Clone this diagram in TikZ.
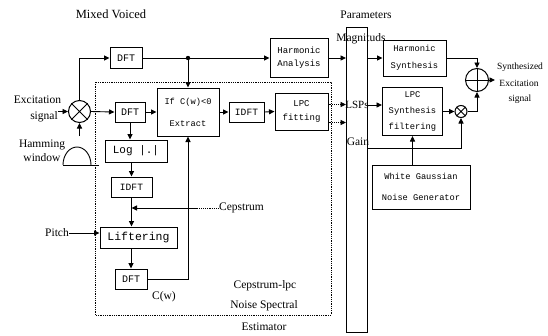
\documentclass[tikz,border=0pt]{standalone}
\usepackage{fontspec}
\setmainfont{Liberation Serif}
\setmonofont{Liberation Mono}
\usetikzlibrary{arrows.meta}

\tikzset{
  >={Triangle[length=5.5pt,width=5pt]},
  blk/.style={draw,line width=1pt,inner sep=0pt,align=center,
    font=\ttfamily\fontsize{9}{14}\selectfont},
  lbl/.style={inner sep=0pt,align=center,font=\fontsize{11.5}{13}\selectfont},
  olbl/.style={inner sep=0pt,font=\fontsize{9.5}{11}\selectfont},
  wire/.style={line width=0.9pt},
}

\begin{document}
\begin{tikzpicture}[x=1pt,y=-1pt]
  \useasboundingbox (0,0) rectangle (548,335);
  %
  \draw[densely dotted,line width=0.8pt] (95,82) rectangle (331,315);
  %
  \node[blk,minimum width=32,minimum height=21,font=\ttfamily\fontsize{10}{12}\selectfont] (dfta) at (126,58) {DFT};
  \node[blk,minimum width=58,minimum height=39,font=\ttfamily\fontsize{9}{13}\selectfont] (harm) at (299,58) {Harmonic\\Analysis};
  \node[blk,minimum width=30,minimum height=20,font=\ttfamily\fontsize{10}{12}\selectfont] (dftb) at (130,112) {DFT};
  \node[blk,minimum width=62,minimum height=48,font=\ttfamily\fontsize{8.7}{22}\selectfont] (ext) at (188,112) {If C(w)<0\\Extract};
  \node[blk,minimum width=35,minimum height=20,font=\ttfamily\fontsize{9.6}{12}\selectfont] (idfta) at (246.5,112) {IDFT};
  \node[blk,minimum width=53,minimum height=37] (lpcf) at (301.5,111.5) {LPC\\fitting};
  \node[blk,minimum width=62,minimum height=22,font=\ttfamily\fontsize{11}{12}\selectfont] (logb) at (136,151) {Log |.|};
  \node[blk,minimum width=41,minimum height=20,font=\ttfamily\fontsize{9.6}{12}\selectfont] (idftb) at (131.5,187) {IDFT};
  \node[blk,minimum width=77,minimum height=21,font=\ttfamily\fontsize{11.5}{12}\selectfont] (lift) at (138.5,237.5) {Liftering};
  \node[blk,minimum width=32,minimum height=20,font=\ttfamily\fontsize{10}{12}\selectfont] (dftc) at (131,279) {DFT};
  %
  \node[blk,minimum width=21,minimum height=305] (par) at (357,179.5) {};
  \node[blk,minimum width=63,minimum height=36,font=\ttfamily\fontsize{8.8}{17}\selectfont] (hsyn) at (414.5,58) {Harmonic\\Synthesis};
  \node[blk,minimum width=60,minimum height=48,font=\ttfamily\fontsize{8.8}{16}\selectfont] (lsyn) at (412.5,111.5) {LPC\\Synthesis\\filtering};
  \node[blk,minimum width=98,minimum height=44,font=\ttfamily\fontsize{8.7}{21}\selectfont] (noise) at (421,187) {White Gaussian\\Noise Generator};
  %
  \node[draw,circle,line width=1pt,minimum size=22,inner sep=0pt] (mixa) at (79.5,111.5) {};
  \draw[line width=0.9pt] (mixa.north west) -- (mixa.south east) (mixa.north east) -- (mixa.south west);
  \node[draw,circle,line width=1pt,minimum size=12,inner sep=0pt] (mixb) at (461,111.5) {};
  \draw[line width=0.9pt] (mixb.north west) -- (mixb.south east) (mixb.north east) -- (mixb.south west);
  \node[draw,circle,line width=1pt,minimum size=23,inner sep=0pt] (add) at (477,80) {};
  \draw[line width=0.9pt] (add.north) -- (add.south) (add.west) -- (add.east);
  %
  \node[lbl,font=\fontsize{12.5}{14}\selectfont] (mv) at (111,14) {Mixed Voiced};
  \node[lbl] (exc) at (37.5,100) {Excitation};
  \node[lbl] (sig) at (44,117) {signal};
  \node[lbl] (ham) at (42,145) {Hamming};
  \node[lbl] (win) at (42,158) {window};
  \node[lbl] (cep) at (241.5,208) {Cepstrum};
  \node[lbl] (pitch) at (57,233) {Pitch};
  \node[lbl] (cw) at (164,297) {C(w)};
  \node[lbl] (est1) at (265,286) {Cepstrum-lpc};
  \node[lbl] (est2) at (264,306) {Noise Spectral};
  \node[lbl] (est3) at (264,327) {Estimator};
  \node[lbl] (parl) at (366,15) {Parameters};
  \node[lbl] (mag) at (361,39) {Magnituds};
  \node[lbl,font=\fontsize{11}{12}\selectfont] (lsps) at (357,105) {LSPs};
  \node[lbl] (gain) at (358,142) {Gain};
  \node[olbl] (syn1) at (520,67) {Synthesized};
  \node[olbl] (syn2) at (519,83) {Excitation};
  \node[olbl] (syn3) at (520,99) {signal};
  %
  \coordinate (tap) at (188,58);
  \coordinate (hw) at (79.5,136);
  \coordinate (gn) at (367.5,148);
  \coordinate (cj) at (197,208);
  \coordinate (out) at (495,80);
  %
  % hamming window
  \draw[line width=0.9pt] (63,165) arc[start angle=180,end angle=0,x radius=14pt,y radius=18pt];
  \draw[line width=0.9pt] (63,165) -- (99,165);
  %
  \begin{scope}[wire]
    \draw[->] (sig.east |- mixa.west) -- (mixa.west);
    \draw[->] (hw) -- (mixa.south);
    \draw[->] (mixa.north) |- (dfta.west);
    \draw[->] (dfta.east) -- (harm.west);
    \fill (tap) circle (2.2pt);
    \draw[->] (tap) -- (ext.north);
    \draw[->] (mixa.east) -- (dftb.west);
    \draw[->] (dftb.east) -- (ext.west);
    \draw[->] (ext.east) -- (idfta.west);
    \draw[->] (idfta.east) -- (lpcf.west);
    \foreach \s in {7,-11}{
      \draw[->,densely dotted] ([yshift=\s pt]lpcf.east) -- ([yshift=\s pt]lpcf.east -| par.west);
    }
    %
    \draw[->] (dftb.south) -- (dftb.south |- logb.north);
    \draw[->] (idftb.north |- logb.south) -- (idftb.north);
    \draw[->] (idftb.south) -- (idftb.south |- lift.north);
    \draw[densely dotted] (cep.west) -- (cj);
    \draw[->] (cj) -- (idftb.south |- cj);
    \draw[->] (pitch.east) -- (pitch.east -| lift.west);
    \draw[->] (dftc.north |- lift.south) -- (dftc.north);
    \draw[->] (dftc.east) -| (ext.south);
    %
    \draw[->] (harm.east) -- (harm.east -| par.west);
    \draw[->] (hsyn.west -| par.east) -- (hsyn.west);
    \draw[->] (par.east |- lsps) -- (lsyn.west |- lsps);
    \draw[->] (lsyn.east) -- (mixb.west);
    \draw[->] (gn) -| (mixb.south);
    \draw[->] (lsyn.south |- noise.north) -- (lsyn.south);
    \draw[->] (hsyn.east) -| (add.north);
    \draw[->] (mixb.east) -| (add.south);
    \draw[->] (add.east) -- (out);
  \end{scope}
\end{tikzpicture}
\end{document}
